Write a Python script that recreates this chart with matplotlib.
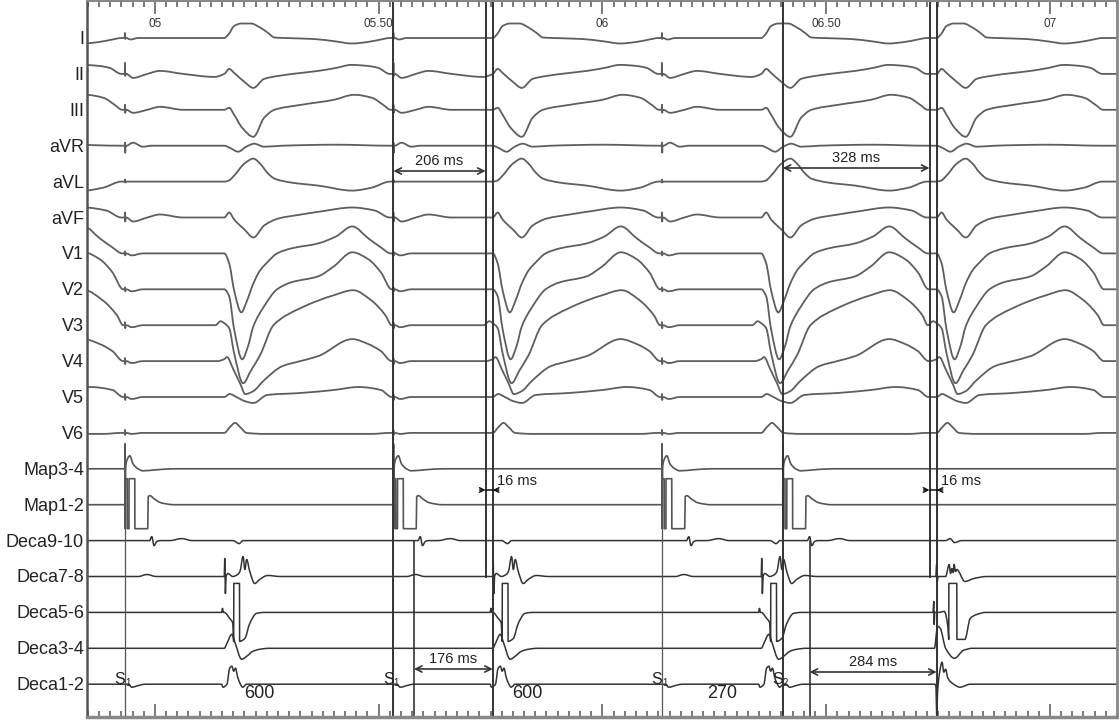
import matplotlib
matplotlib.use('Agg')
import matplotlib.pyplot as plt
from matplotlib.path import Path
from matplotlib.patches import PathPatch
import numpy as np

plt.rcParams['font.family'] = ['Liberation Sans', 'DejaVu Sans']

# ---------------- data ----------------
channels = ['I', 'II', 'III', 'aVR', 'aVL', 'aVF', 'V1', 'V2', 'V3', 'V4', 'V5', 'V6',
            'Map3-4', 'Map1-2', 'Deca9-10', 'Deca7-8', 'Deca5-6', 'Deca3-4', 'Deca1-2']

tick_values = [5.0, 5.5, 6.0, 6.5, 7.0]
tick_labels = ['05', '05.50', '06', '06.50', '07']

s1_times = [4.933, 5.533, 6.133]          # s
s2_time = 6.403                            # s
cycle_labels = ['600', '600', '270']       # ms
qrs_onsets = [4.555, 5.155, 5.755, 6.355, 6.747]  # beat 0..3 paced S1, beat 4 after S2

stim_to_marker = [206, 328]   # ms
marker_to_qrs = [16, 16]      # ms
deca_to_qrs = [176, 284]      # ms

# QRS-T complex per surface lead: (ms from QRS onset, amplitude)
QRST = {
    'I':   ([0, 10, 22, 38, 60, 78, 98, 112, 135, 200, 250, 285, 320, 350, 370],
            [0, 4, 12, 14.5, 14.5, 11, 5, 0.5, 0, -1, -3.5, -5.5, -4, -1.5, 0]),
    'II':  ([0, 11, 22, 45, 65, 89, 121, 172, 210, 250, 284, 320, 344, 370],
            [0, 5, 1, -8, -14, -5, -2, 1, 3, 6, 9, 8, 6, 0]),
    'III': ([0, 11, 22, 40, 65, 89, 112, 172, 245, 290, 330, 355, 372],
            [0, 2, -5, -18, -27, -8, 0, 5, 10, 15, 12, 5, 0]),
    'aVR': ([0, 12, 31, 49, 67, 89, 130, 250, 370],
            [0, -2, -6, -1, 2, -1, 0, 1, 0]),
    'aVL': ([0, 10, 22, 45, 65, 80, 96, 112, 150, 210, 286, 330, 370],
            [0, 1, 6, 18, 23, 18, 9, 3, -1, -4, -9, -6, 0]),
    'aVF': ([0, 11, 22, 45, 65, 89, 121, 172, 215, 286, 336, 370],
            [0, 5, -2, -12, -20, -8, -1, 3, 6, 10, 7, 0]),
    'V1':  ([0, 11, 22, 38, 51, 65, 80, 96, 118, 150, 210, 250, 286, 322, 350, 372],
            [0, -10, -37, -59, -47, -30, -17, -9, 0, 5, 10, 17, 27, 15, 6, 0]),
    'V2':  ([0, 11, 22, 40, 53, 65, 89, 118, 150, 210, 245, 286, 322, 350, 374],
            [0, -7, -40, -70, -57, -37, -17, 0, 7, 13, 23, 37, 30, 17, 0]),
    'V3':  ([-20, -8, 0, 11, 22, 42, 60, 80, 110, 170, 245, 288, 328, 360, 374],
            [0, 4, 2, -3, -28, -58, -45, -30, 0, 17, 30, 35, 25, 10, 0]),
    'V4':  ([-15, 0, 6, 20, 36, 47, 65, 87, 130, 170, 210, 286, 322, 350, 374],
            [0, 2, 4, -8, -23, -33, -30, -20, -5, 0, 5, 22, 17, 10, 0]),
    'V5':  ([0, 12, 27, 45, 65, 96, 170, 245, 300, 350, 374],
            [0, 3, 0, -4, -6, 2, 4, 7, 10, 7, 0]),
    'V6':  ([0, 13, 24, 35, 50, 90, 250, 330, 370],
            [0, 6, 10, 6, 0, -1, -1, -1, 0]),
}

# pacing spike height (up, down) on surface leads
SPIKE = {'I': (5, 1), 'II': (11, 2), 'III': (5, 3), 'aVR': (3, 7), 'aVL': (2, 1),
         'aVF': (5, 4), 'V1': (2, 2), 'V2': (2, 2), 'V3': (3, 3), 'V4': (3, 3),
         'V5': (3, 3), 'V6': (3, 2)}

# deflections following each stimulus: (ms from stimulus, amplitude)
POST_STIM = {
    'I':   ([3, 12, 30], [0, -1.5, 0]),
    'II':  ([3, 18, 50, 78, 130, 200], [0, -4, 0, 3, 0, -3]),
    'III': ([3, 18, 50, 78, 130], [0, -3, 0, 3, 0]),
    'aVR': ([3, 18, 40, 60], [0, 3, -1, 0]),
    'aVF': ([3, 18, 50, 78, 130], [0, -4, 0, 3, 0]),
    'V1':  ([3, 15, 40], [0, -2, 0]),
    'V2':  ([3, 15, 40], [0, -2, 0]),
    'V3':  ([3, 15, 40], [0, -2, 0]),
    'V4':  ([3, 15, 40], [0, -2, 0]),
    'V5':  ([3, 15, 40], [0, -2, 0]),
    'V6':  ([3, 15, 40], [0, -1, 0]),
    'Map3-4': ([0, 0.3, 0.8, 1.5, 4, 11, 18, 29, 40, 70, 110],
               [0, 25, -60, 0, 8, 13, 5, 0, -2, -1, 0]),
    'Map1-2': ([0, 0.2, 5, 5.2, 9, 9.2, 22, 22.2, 51, 52, 56, 65, 80, 110],
               [0, 26, 26, -24, -24, 26, 26, -24, -24, 8, 9, 6, 2, 0]),
    'Deca9-10': ([20, 55, 60, 65, 71, 78, 100, 127, 150],
                 [0, 0, 4, -5, -1, 0, 0, 2, 0]),
    'Deca7-8': ([30, 49, 70], [0, 2, 0]),
    'Deca1-2': ([8, 15, 33, 45], [0, -3, -1, 0]),
}

# intracardiac electrograms for S1-paced beats: (ms from QRS onset, amplitude)
EGM_S1 = {
    'Deca9-10': ([0, 20, 33, 42, 50], [0, 0, -3, 0, 0]),
    'Deca7-8': ([0, 1, 2.5, 4, 8, 19, 30, 35, 42, 46, 50, 57, 68, 79, 97, 125],
                [0, 18, -17, 0, 3, 0, 2, 5, 20, 7, 17, 5, -7, -3, 1, 0]),
    'Deca5-6': ([-6, -4, -2, 0, 12, 19, 21, 21.3, 34, 34.3, 46, 57, 72, 90],
                [0, 4, 0, 0, -6, -11, -29, 29, 29, -29, -26, -11, -1, 0]),
    'Deca3-4': ([0, 6, 17, 23, 39, 50, 64, 79, 100],
                [0, 5, 14, 7, -11, -8, -3, -1, 0]),
    'Deca1-2': ([-6, -3, 6, 12, 17, 21, 25, 30, 35, 41, 50],
                [0, -3, 0, 16, 18, 13, 16, 7, 1, -3, 0]),
}
# intracardiac electrograms for the S2 beat
EGM_S2 = {
    'Deca9-10': ([0, 20, 30, 40, 55], [0, 0, 2, -2, 0]),
    'Deca7-8': ([-2, 0, 1.5, 3, 20, 28, 31, 34, 37, 39, 42, 45, 63, 83, 112],
                [0, 12, -5, 0, 0, 12, 3, 8, 4, 12, 5, 7, -5, -2, 0]),
    'Deca5-6': ([-8, -6.5, -5.5, -4.5, 5, 17, 25, 27, 27.3, 45, 45.3, 63, 75, 90, 110],
                [0, 11, -12, 0, 0, 1, -14, -27, 29, 29, -27, -27, -6, -2, 0]),
    'Deca3-4': ([-5, 2, 8, 20, 40, 60, 80], [0, 22, 20, 0, -10, -2, 0]),
    'Deca1-2': ([-4, -1.5, 0, 2, 6, 12, 16, 20, 25, 38, 52, 75],
                [0, -3, -30, -8, 10, 22, 12, 15, 6, 0, -3, 0]),
}

# ---------------- layout helpers ----------------
W, H = 1119, 720
PX_PER_S = 448.0
X0_PX, T0 = 155.0, 5.0
def t_of(px):
    return T0 + (px - X0_PX) / PX_PER_S
XMIN, XMAX = t_of(87), t_of(1117)
def base_px(i):
    return 38 + 35.9 * i
def ydata(px):
    return -(px - 1)

fig = plt.figure(figsize=(W / 100, H / 100), dpi=100)
ax = fig.add_axes([87 / W, 3 / H, 1030 / W, 716 / H])
ax.set_xlim(XMIN, XMAX)
ax.set_ylim(-716, 0)

all_stims = s1_times + [s2_time]


def merge(segs):
    """segs: list of (t, a, is_beat). Beats take priority over stimulus features."""
    segs.sort(key=lambda s: s[0][0])
    acc = []
    for t, a, beat in segs:
        if acc and t[0] <= acc[-1][0][-1]:
            pt, pa, pbeat = acc[-1]
            if beat:
                keep = pt < t[0] - 1e-4
                acc[-1] = (pt[keep], pa[keep], pbeat)
            else:
                continue
        acc.append((t, a, beat))
    xs = np.concatenate([s[0] for s in acc])
    ys = np.concatenate([s[1] for s in acc])
    keep = np.concatenate([[True], np.diff(xs) > 0])
    return xs[keep], ys[keep]


def smooth_path(x, y):
    """Monotone cubic (Fritsch-Carlson) Bezier path through the read points."""
    n = len(x)
    h = np.diff(x)
    d = np.diff(y) / h
    m = np.zeros(n)
    for i in range(1, n - 1):
        if d[i - 1] * d[i] > 0:
            w1 = 2 * h[i] + h[i - 1]
            w2 = h[i] + 2 * h[i - 1]
            m[i] = (w1 + w2) / (w1 / d[i - 1] + w2 / d[i])
    verts = [(x[0], y[0])]
    codes = [Path.MOVETO]
    for i in range(n - 1):
        verts += [(x[i] + h[i] / 3, y[i] + m[i] * h[i] / 3),
                  (x[i + 1] - h[i] / 3, y[i + 1] - m[i + 1] * h[i] / 3),
                  (x[i + 1], y[i + 1])]
        codes += [Path.CURVE4] * 3
    return Path(verts, codes)


for i, ch in enumerate(channels):
    segs = [(np.array([XMIN - 0.02]), np.array([0.0]), False),
            (np.array([XMAX + 0.02]), np.array([0.0]), False)]
    surface = ch in QRST
    if surface:
        t, a = QRST[ch]
        for q in qrs_onsets:
            segs.append((q + np.array(t) / 1000.0, np.array(a, float), True))
        up, dn = SPIKE[ch]
        for s in all_stims:
            segs.append((np.array([s - 0.0004, s, s + 0.0007, s + 0.0012]),
                         np.array([0, up, -dn, 0], float), False))
    if ch in EGM_S1:
        t, a = EGM_S1[ch]
        for q in qrs_onsets[:4]:
            segs.append((q + np.array(t) / 1000.0, np.array(a, float), True))
        t, a = EGM_S2[ch]
        segs.append((qrs_onsets[4] + np.array(t) / 1000.0, np.array(a, float), True))
    if ch in POST_STIM:
        t, a = POST_STIM[ch]
        for s in all_stims:
            segs.append((s + np.array(t) / 1000.0, np.array(a, float), False))
    xs, ys = merge(segs)
    if surface:
        col, lw = '#5e5e5e', 1.3
    elif ch.startswith('Map'):
        col, lw = '#555555', 1.2
    else:
        col, lw = '#333333', 1.1
    path = smooth_path(xs, ydata(base_px(i)) + ys)
    ax.add_patch(PathPatch(path, facecolor='none', edgecolor=col, lw=lw,
                           joinstyle='round', capstyle='round'))
    fig.text(84 / W, 1 - (base_px(i) + 1.5) / H, ch, ha='right', va='center',
             fontsize=13, color='#222222')

# ---------------- marker lines ----------------
LC = '#333333'
top_y, bot_y = ydata(0), ydata(717)
y_deca78 = ydata(base_px(15))
y_deca910 = ydata(base_px(14))

pace_refs = [s1_times[1], s2_time]
for k, s in enumerate(pace_refs):
    m = s + stim_to_marker[k] / 1000.0
    q = m + marker_to_qrs[k] / 1000.0
    d = q - deca_to_qrs[k] / 1000.0
    ax.plot([s, s], [top_y, bot_y], color=LC, lw=1.4)
    ax.plot([m, m], [top_y, y_deca78], color=LC, lw=1.4)
    ax.plot([q, q], [top_y, bot_y], color=LC, lw=1.4)
    ax.plot([d, d], [y_deca910, bot_y], color=LC, lw=1.2)
    ya = ydata([171, 168][k])
    ax.annotate('', xy=(m, ya), xytext=(s, ya),
                arrowprops=dict(arrowstyle='<->', color=LC, lw=1.2, mutation_scale=11,
                                shrinkA=0, shrinkB=0))
    ax.text((s + m) / 2, ya + 3, f'{stim_to_marker[k]} ms', ha='center', va='bottom',
            fontsize=10.5, color='#222222')
    # short interval marker: two inward-pointing heads
    yb = ydata(490)
    ax.annotate('', xy=(m, yb), xytext=(m - 6 / PX_PER_S, yb),
                arrowprops=dict(arrowstyle='->', color='#111111', lw=1.1, mutation_scale=8,
                                shrinkA=0, shrinkB=0))
    ax.annotate('', xy=(q, yb), xytext=(q + 6 / PX_PER_S, yb),
                arrowprops=dict(arrowstyle='->', color='#111111', lw=1.1, mutation_scale=8,
                                shrinkA=0, shrinkB=0))
    ax.plot([m, q], [yb, yb], color='#111111', lw=1.1)
    ax.text(q + 4 / PX_PER_S, yb + 2, f'{marker_to_qrs[k]} ms', ha='left', va='bottom',
            fontsize=10.5, color='#222222')
    yc = ydata([669, 672][k])
    ax.annotate('', xy=(q, yc), xytext=(d, yc),
                arrowprops=dict(arrowstyle='<->', color=LC, lw=1.2, mutation_scale=11,
                                shrinkA=0, shrinkB=0))
    ax.text((d + q) / 2, yc + 3, f'{deca_to_qrs[k]} ms', ha='center', va='bottom',
            fontsize=10.5, color='#222222')

# thin stimulus lines through the intracardiac channels
for s in (s1_times[0], s1_times[2]):
    ax.plot([s, s], [ydata(528), bot_y], color='#555555', lw=0.9)

# stimulus labels and cycle lengths
y_s = ydata(679)
for s, sub in zip(all_stims, ['1', '1', '1', '2']):
    ax.text(s + 0.5 / PX_PER_S, y_s, 'S', ha='right', va='center', fontsize=11.5,
            color='#222222')
    ax.text(s, y_s - 4, sub, ha='left', va='center', fontsize=7, color='#222222')
bounds = all_stims
for k, lab in enumerate(cycle_labels):
    xm = (bounds[k] + bounds[k + 1]) / 2
    ax.text(xm, ydata(693), lab, ha='center', va='center', fontsize=13, color='#222222')

# time labels
for tv, tl in zip(tick_values, tick_labels):
    ax.text(tv, ydata(24), tl, ha='center', va='center', fontsize=8.5, color='#333333')

# ticks & frame
ax.set_xticks(tick_values)
ax.set_xticks(np.arange(4.85, 7.15, 0.025), minor=True)
ax.set_xticklabels([])
ax.set_yticks([])
ax.tick_params(axis='x', which='both', direction='in', top=True, bottom=True,
               color='#555555', width=1.1)
ax.tick_params(axis='x', which='major', length=9.5)
ax.tick_params(axis='x', which='minor', length=4.5)
for side in ('top', 'right', 'bottom'):
    ax.spines[side].set_color('#888888')
ax.spines['bottom'].set_linewidth(2.5)
ax.spines['right'].set_linewidth(2.0)
ax.spines['top'].set_linewidth(1.5)
ax.spines['left'].set_color('#555555')
ax.spines['left'].set_linewidth(1.8)

fig.savefig('out.png', dpi=100)
